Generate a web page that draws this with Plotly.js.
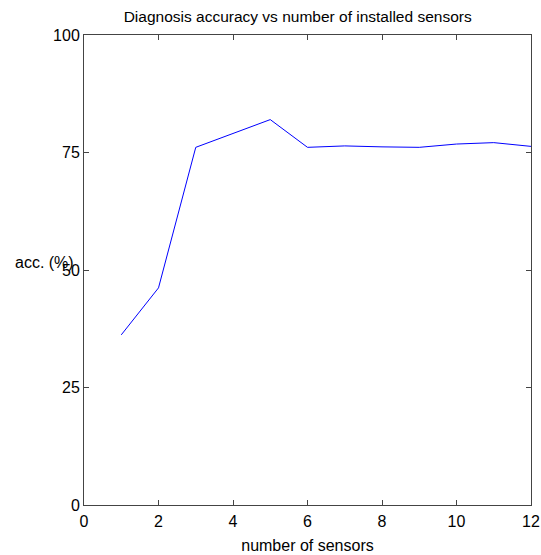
<!DOCTYPE html>
<html>
<head>
<meta charset="utf-8">
<script src="https://cdn.plot.ly/plotly-3.0.1.min.js"></script>
<style>html,body{margin:0;padding:0;background:#fff;}#chart{width:541px;height:555px;}</style>
</head>
<body>
<div id="chart"></div>
<script>
const sensors = [1, 2, 3, 4, 5, 6, 7, 8, 9, 10, 11, 12];
const accuracy = [36.2, 46.2, 76.1, 79.0, 82.0, 76.1, 76.4, 76.2, 76.1, 76.8, 77.1, 76.3];
const xTicks = [0, 2, 4, 6, 8, 10, 12];
const yTicks = [0, 25, 50, 75, 100];

const font = {family: 'Liberation Sans, Arial, sans-serif', size: 16, color: '#000'};
const axisCommon = {
  showgrid: false, zeroline: false, showline: true, linecolor: '#444', linewidth: 1,
  mirror: 'ticks', ticks: 'inside', ticklen: 5, tickcolor: '#444', tickwidth: 1,
  tickfont: font, tickmode: 'array'
};

Plotly.newPlot('chart', [{
  x: sensors, y: accuracy, type: 'scatter', mode: 'lines',
  line: {color: '#0000ff', width: 1}
}], {
  width: 541, height: 555,
  margin: {l: 83.5, r: 10, t: 34.7, b: 49.7},
  paper_bgcolor: '#fff', plot_bgcolor: '#fff',
  font: font,
  showlegend: false,
  title: {text: 'Diagnosis accuracy vs number of installed sensors', font: Object.assign({}, font, {size: 15.5}), xref: 'paper', x: 0.478, xanchor: 'center', y: 1, yref: 'container', yanchor: 'top', pad: {t: 11}},
  xaxis: Object.assign({}, axisCommon, {
    range: [0, 12], tickvals: xTicks, ticktext: xTicks.map(String), ticklabelstandoff: 2,
    title: {text: 'number of sensors', font: font, standoff: 10}
  }),
  yaxis: Object.assign({}, axisCommon, {
    range: [0, 100], tickvals: yTicks, ticktext: yTicks.map(String)
  }),
  annotations: [{
    text: 'acc. (%)', xref: 'paper', yref: 'y', x: -0.017, y: 51.7,
    xanchor: 'right', yanchor: 'middle', showarrow: false, font: font
  }]
}, {displayModeBar: false, staticPlot: true});
</script>
</body>
</html>
